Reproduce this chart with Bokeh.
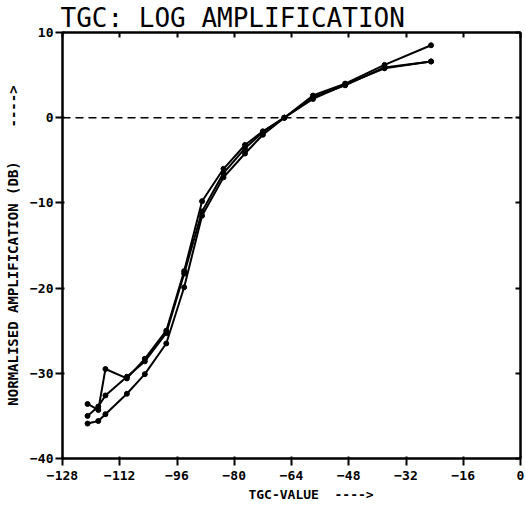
from bokeh.plotting import figure
from bokeh.models import Span, Title, LinearAxis, FixedTicker, Range1d, ColumnDataSource
from bokeh.embed import file_html
from bokeh.resources import INLINE

# TGC setting values (x) and normalised amplification (dB) for three measurements
tgc = [-121, -118, -116, -110, -105, -99, -94, -89, -83, -77, -72, -66, -58, -49, -38, -25]
amp_a = [-33.6, -34.3, -29.5, -30.6, -28.3, -25.0, -18.0, -9.8, -6.0, -3.2, -1.6, 0.0, 2.6, 4.0, 6.2, 8.5]
amp_b = [-35.0, -33.9, -32.6, -30.4, -28.6, -25.3, -18.3, -11.0, -6.5, -3.6, -1.7, 0.0, 2.2, 3.9, 5.8, 6.6]
amp_c = [-35.9, -35.6, -34.8, -32.4, -30.1, -26.5, -19.9, -11.5, -7.0, -4.2, -2.0, 0.0, 2.4, 3.8, 5.9, 6.6]

x_ticks = [-128, -112, -96, -80, -64, -48, -32, -16, 0]
y_ticks = [-40, -30, -20, -10, 0, 10]

title_text = "TGC: LOG AMPLIFICATION"
x_label = "\u00a0" * 5 + "TGC-VALUE\u00a0\u00a0---->"
y_label = "NORMALISED AMPLIFICATION (DB)\u00a0\u00a0\u00a0\u00a0---->"

FONT = "DejaVu Sans Mono"

p = figure(width=526, height=505, x_range=Range1d(-128, 0), y_range=Range1d(-40, 10),
           output_backend="svg", toolbar_location=None,
           min_border_left=62, min_border_right=6, min_border_top=32, min_border_bottom=47)
p.xgrid.visible = False
p.ygrid.visible = False
p.outline_line_color = "black"
p.outline_line_width = 2
p.background_fill_color = "white"
p.border_fill_color = "white"

for ax in (p.xaxis[0], p.yaxis[0]):
    ax.axis_line_width = 2
    ax.axis_line_color = "black"
    ax.major_tick_line_width = 2
    ax.major_tick_line_color = "black"
    ax.minor_tick_line_color = None
    ax.major_tick_out = 7
    ax.major_tick_in = 2
    ax.major_label_text_font = FONT
    ax.major_label_text_font_style = "bold"
    ax.major_label_text_color = "black"
    ax.axis_label_text_font = FONT
    ax.axis_label_text_font_style = "bold"
    ax.axis_label_text_color = "black"

p.xaxis[0].ticker = FixedTicker(ticks=x_ticks)
p.yaxis[0].ticker = FixedTicker(ticks=y_ticks)
p.xaxis[0].major_label_text_font_size = "13px"
p.yaxis[0].major_label_text_font_size = "13px"
p.xaxis[0].major_label_standoff = 5
p.yaxis[0].major_label_standoff = 2
p.xaxis[0].axis_label = x_label
p.xaxis[0].axis_label_text_font_size = "13px"
p.xaxis[0].axis_label_standoff = 4
p.yaxis[0].axis_label = y_label
p.yaxis[0].axis_label_text_font_size = "14px"
p.yaxis[0].axis_label_standoff = 6

top = LinearAxis(ticker=FixedTicker(ticks=x_ticks), major_tick_out=0, major_tick_in=5,
                 major_label_text_font_size="1px", major_label_text_color=None,
                 major_label_standoff=0,
                 minor_tick_line_color=None, axis_line_width=2, major_tick_line_width=2)
p.add_layout(top, "above")
right = LinearAxis(ticker=FixedTicker(ticks=y_ticks), major_tick_out=0, major_tick_in=5,
                   major_label_text_font_size="1px", major_label_text_color=None,
                   major_label_standoff=0,
                   minor_tick_line_color=None, axis_line_width=2, major_tick_line_width=2)
p.add_layout(right, "right")

p.add_layout(Title(text=title_text, text_font=FONT, text_font_size="26px",
                   text_font_style="normal", text_color="black", align="left",
                   standoff=0, offset=-2, vertical_align="bottom"), "above")

p.add_layout(Span(location=0, dimension="width", line_color="black", line_width=1.5,
                  line_dash="8 5"))

for ys in (amp_a, amp_b, amp_c):
    src = ColumnDataSource(dict(x=tgc, y=ys))
    p.line("x", "y", source=src, line_color="black", line_width=2)
    p.scatter("x", "y", source=src, size=5, color="black")

open("out.html", "w").write(file_html(p, INLINE))
